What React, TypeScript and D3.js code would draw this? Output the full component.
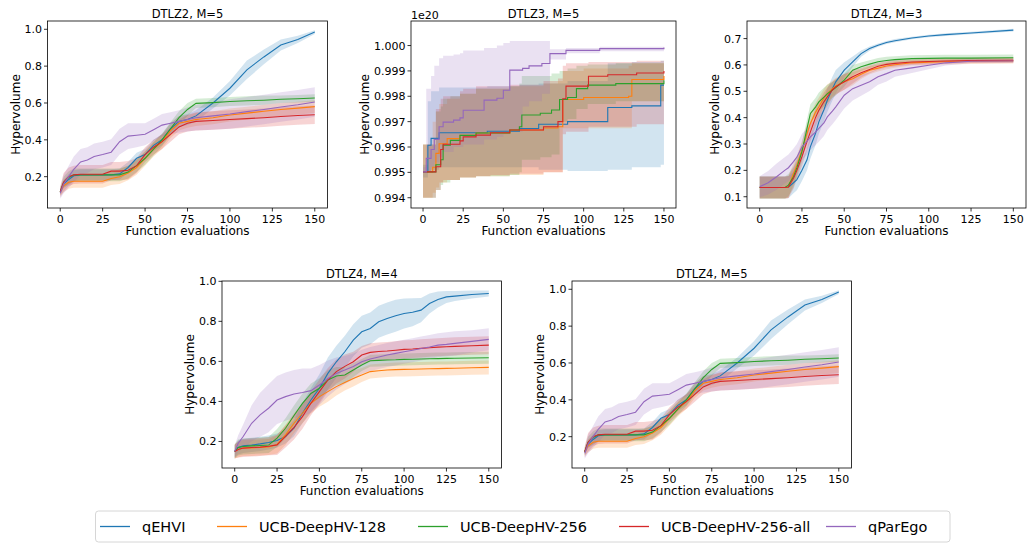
import React from 'react';
import * as d3 from 'd3';

const COLORS = ['#1f77b4', '#ff7f0e', '#2ca02c', '#d62728', '#9467bd'];
const NAMES = ['qEHVI', 'UCB-DeepHV-128', 'UCB-DeepHV-256', 'UCB-DeepHV-256-all', 'qParEgo'];
const X_TICKS = [0, 25, 50, 75, 100, 125, 150];

// DTLZ2 M=5 (same curves show up again for DTLZ4 M=5)
const evalsA = [0, 2, 5, 8, 12, 16, 20, 25, 30, 35, 40, 45, 50, 55, 60, 65, 70, 75, 80, 90, 100, 110, 120, 130, 140, 150];
const dtlz2Qehvi = [0.118, 0.16, 0.185, 0.205, 0.21, 0.21, 0.21, 0.21, 0.21, 0.215, 0.25, 0.3, 0.32, 0.37, 0.4, 0.46, 0.5, 0.51, 0.53, 0.6, 0.68, 0.78, 0.85, 0.915, 0.945, 0.985];
const dtlz2QehviSd = [0.01, 0.02, 0.03, 0.03, 0.03, 0.03, 0.03, 0.03, 0.03, 0.03, 0.03, 0.03, 0.03, 0.03, 0.03, 0.03, 0.03, 0.03, 0.03, 0.03, 0.04, 0.05, 0.04, 0.03, 0.02, 0.01];
const dtlz2Ucb128 = [0.118, 0.15, 0.17, 0.175, 0.175, 0.175, 0.175, 0.175, 0.19, 0.2, 0.22, 0.25, 0.3, 0.35, 0.39, 0.45, 0.49, 0.5, 0.51, 0.52, 0.535, 0.545, 0.555, 0.565, 0.572, 0.58];
const dtlz2Ucb128Sd = [0.02, 0.035, 0.035, 0.035, 0.035, 0.035, 0.035, 0.035, 0.035, 0.04, 0.04, 0.04, 0.04, 0.04, 0.04, 0.04, 0.04, 0.035, 0.035, 0.035, 0.035, 0.035, 0.035, 0.035, 0.035, 0.035];
const dtlz2Ucb256 = [0.118, 0.17, 0.195, 0.21, 0.21, 0.21, 0.21, 0.21, 0.21, 0.21, 0.225, 0.26, 0.3, 0.35, 0.4, 0.46, 0.52, 0.565, 0.598, 0.602, 0.608, 0.612, 0.615, 0.62, 0.623, 0.627];
const dtlz2Ucb256Sd = [0.02, 0.03, 0.035, 0.035, 0.035, 0.035, 0.035, 0.035, 0.035, 0.035, 0.035, 0.035, 0.035, 0.035, 0.035, 0.035, 0.035, 0.035, 0.025, 0.025, 0.025, 0.025, 0.025, 0.02, 0.02, 0.02];
const dtlz2Ucb256All = [0.118, 0.17, 0.2, 0.21, 0.213, 0.213, 0.213, 0.213, 0.23, 0.23, 0.235, 0.26, 0.32, 0.36, 0.39, 0.43, 0.47, 0.49, 0.5, 0.505, 0.51, 0.515, 0.52, 0.527, 0.532, 0.536];
const dtlz2Ucb256AllSd = [0.03, 0.05, 0.05, 0.05, 0.05, 0.05, 0.05, 0.05, 0.05, 0.05, 0.05, 0.04, 0.04, 0.04, 0.04, 0.04, 0.04, 0.045, 0.05, 0.05, 0.05, 0.05, 0.05, 0.05, 0.05, 0.05];
const dtlz2QParEgo = [0.11, 0.16, 0.2, 0.24, 0.28, 0.29, 0.31, 0.32, 0.333, 0.39, 0.42, 0.425, 0.43, 0.455, 0.48, 0.49, 0.5, 0.51, 0.52, 0.53, 0.54, 0.553, 0.565, 0.578, 0.59, 0.605];
const dtlz2QParEgoSd = [0.03, 0.05, 0.06, 0.07, 0.07, 0.07, 0.07, 0.07, 0.07, 0.07, 0.07, 0.065, 0.06, 0.06, 0.06, 0.06, 0.06, 0.065, 0.07, 0.075, 0.08, 0.08, 0.08, 0.08, 0.08, 0.08];

// DTLZ3 M=5, step curves, values in 1e17 (thousandths of 1e20)
const dtlz3QehviX = [0, 3, 5, 10, 40, 60, 72, 90, 115, 130, 148, 150];
const dtlz3Qehvi = [995.02, 996.07, 996.34, 996.56, 996.62, 996.73, 996.9, 997.0, 997.56, 997.62, 998.44, 998.44];
const dtlz3QehviLo = [994.8, 995.0, 995.1, 995.2, 995.2, 995.2, 995.1, 995.05, 995.1, 995.2, 995.3, 996.3];
const dtlz3QehviHi = [995.3, 997.8, 998.2, 998.35, 998.4, 998.45, 998.5, 998.6, 999.3, 999.35, 999.4, 1000.6];
const dtlz3Ucb128X = [0, 6, 8, 10, 15, 23, 33, 54, 75, 84, 87, 100, 128, 130, 150];
const dtlz3Ucb128 = [995.02, 995.2, 995.75, 996.13, 996.33, 996.46, 996.55, 996.67, 996.75, 996.8, 997.87, 997.95, 998.0, 998.66, 998.8];
const dtlz3Ucb128Lo = [994.0, 994.2, 994.4, 994.6, 994.7, 994.8, 994.85, 994.9, 995.0, 995.0, 996.74, 996.74, 996.74, 997.8, 997.9];
const dtlz3Ucb128Hi = [996.1, 997.0, 997.4, 997.7, 997.9, 998.1, 998.3, 998.4, 998.5, 998.6, 999.0, 999.1, 999.2, 999.3, 999.4];
const dtlz3Ucb256X = [0, 8, 11, 12.5, 17, 23, 33, 54, 60, 61.5, 73, 80, 85, 90, 95.5, 102.5, 120, 150];
const dtlz3Ucb256 = [995.02, 995.3, 995.5, 996.07, 996.26, 996.46, 996.55, 996.67, 996.8, 997.26, 997.33, 997.46, 997.87, 997.95, 998.3, 998.44, 998.5, 998.63];
const dtlz3Ucb256Lo = [994.0, 994.3, 994.5, 994.6, 994.7, 994.8, 994.85, 994.9, 995.0, 995.5, 995.6, 995.7, 997.0, 997.1, 997.5, 997.7, 997.8, 997.9];
const dtlz3Ucb256Hi = [996.1, 997.4, 997.6, 997.9, 998.0, 998.1, 998.3, 998.4, 998.5, 998.8, 998.8, 998.9, 999.0, 999.1, 999.2, 999.25, 999.3, 999.35];
const dtlz3Ucb256AllX = [0, 8, 11, 12.5, 23, 25, 33, 42, 54, 75, 84, 87, 89, 103, 115, 133, 150];
const dtlz3Ucb256All = [995.02, 995.22, 995.9, 996.11, 996.24, 996.4, 996.47, 996.56, 996.67, 996.8, 997.0, 997.9, 998.4, 998.79, 998.85, 998.92, 999.0];
const dtlz3Ucb256AllLo = [994.0, 994.3, 994.6, 994.7, 994.8, 994.8, 994.85, 994.9, 994.95, 995.0, 995.0, 996.5, 996.6, 996.8, 996.8, 996.9, 997.0];
const dtlz3Ucb256AllHi = [996.1, 997.5, 997.9, 998.0, 998.2, 998.3, 998.4, 998.4, 998.45, 998.6, 998.7, 999.2, 999.3, 999.35, 999.35, 999.4, 999.4];
const dtlz3QParEgoX = [0, 2, 5, 7, 10, 12.5, 19, 23, 25, 38, 46, 50, 54, 62, 66, 74, 79, 89, 110, 150];
const dtlz3QParEgo = [995.02, 995.55, 995.9, 996.3, 996.8, 996.98, 997.06, 997.15, 997.45, 997.85, 997.92, 998.24, 999.03, 999.1, 999.2, 999.29, 999.68, 999.81, 999.88, 999.92];
const dtlz3QParEgoLo = [995.0, 995.0, 995.2, 995.4, 995.6, 995.8, 996.0, 996.0, 996.1, 996.3, 996.4, 996.5, 996.6, 997.6, 997.8, 998.1, 999.45, 999.7, 999.78, 999.85];
const dtlz3QParEgoHi = [995.2, 998.3, 998.8, 999.2, 999.5, 999.6, 999.65, 999.7, 999.8, 999.9, 1000.0, 1000.1, 1000.18, 1000.18, 1000.18, 1000.18, 999.85, 999.9, 999.95, 999.98];

// DTLZ4 M=3
const evalsC = [0, 5, 10, 15, 17, 20, 22, 25, 28, 30, 33, 35, 38, 40, 43, 45, 50, 55, 60, 65, 70, 75, 80, 90, 100, 110, 125, 150];
const dtlz4m3Qehvi = [0.135, 0.135, 0.135, 0.135, 0.136, 0.153, 0.165, 0.2, 0.24, 0.29, 0.34, 0.384, 0.43, 0.466, 0.51, 0.536, 0.58, 0.612, 0.643, 0.662, 0.675, 0.685, 0.692, 0.702, 0.71, 0.715, 0.721, 0.732];
const dtlz4m3QehviSd = [0.042, 0.042, 0.042, 0.042, 0.042, 0.04, 0.04, 0.04, 0.04, 0.045, 0.045, 0.045, 0.045, 0.045, 0.045, 0.045, 0.03, 0.02, 0.012, 0.008, 0.006, 0.006, 0.006, 0.005, 0.005, 0.005, 0.005, 0.005];
const dtlz4m3Ucb128 = [0.135, 0.135, 0.135, 0.135, 0.137, 0.188, 0.22, 0.277, 0.34, 0.378, 0.42, 0.441, 0.475, 0.491, 0.51, 0.52, 0.536, 0.548, 0.565, 0.58, 0.588, 0.596, 0.601, 0.608, 0.61, 0.612, 0.614, 0.615];
const dtlz4m3Ucb128Sd = [0.042, 0.042, 0.042, 0.042, 0.042, 0.04, 0.035, 0.035, 0.035, 0.035, 0.035, 0.035, 0.035, 0.035, 0.03, 0.03, 0.03, 0.025, 0.018, 0.015, 0.013, 0.012, 0.012, 0.01, 0.01, 0.01, 0.01, 0.01];
const dtlz4m3Ucb256 = [0.135, 0.135, 0.135, 0.135, 0.144, 0.176, 0.21, 0.271, 0.359, 0.416, 0.44, 0.46, 0.478, 0.49, 0.505, 0.514, 0.542, 0.58, 0.593, 0.603, 0.612, 0.617, 0.62, 0.624, 0.625, 0.626, 0.626, 0.627];
const dtlz4m3Ucb256Sd = [0.042, 0.042, 0.042, 0.042, 0.042, 0.04, 0.035, 0.035, 0.035, 0.035, 0.035, 0.035, 0.035, 0.035, 0.03, 0.03, 0.025, 0.02, 0.016, 0.015, 0.014, 0.014, 0.013, 0.013, 0.013, 0.013, 0.013, 0.013];
const dtlz4m3Ucb256All = [0.135, 0.135, 0.135, 0.135, 0.137, 0.17, 0.2, 0.252, 0.31, 0.346, 0.4, 0.428, 0.46, 0.479, 0.505, 0.517, 0.536, 0.555, 0.57, 0.583, 0.595, 0.602, 0.606, 0.611, 0.613, 0.615, 0.617, 0.618];
const dtlz4m3Ucb256AllSd = [0.042, 0.042, 0.042, 0.042, 0.042, 0.04, 0.035, 0.035, 0.035, 0.035, 0.035, 0.035, 0.035, 0.035, 0.03, 0.03, 0.03, 0.025, 0.018, 0.015, 0.013, 0.012, 0.012, 0.01, 0.01, 0.01, 0.01, 0.01];
const dtlz4m3QParEgo = [0.138, 0.153, 0.176, 0.201, 0.21, 0.233, 0.25, 0.289, 0.31, 0.327, 0.345, 0.359, 0.38, 0.403, 0.425, 0.441, 0.485, 0.51, 0.523, 0.536, 0.555, 0.567, 0.58, 0.589, 0.599, 0.608, 0.614, 0.615];
const dtlz4m3QParEgoSd = [0.04, 0.045, 0.05, 0.05, 0.05, 0.05, 0.05, 0.05, 0.05, 0.05, 0.05, 0.05, 0.05, 0.05, 0.05, 0.05, 0.05, 0.045, 0.04, 0.035, 0.03, 0.03, 0.025, 0.02, 0.015, 0.01, 0.008, 0.008];

// DTLZ4 M=4
const evalsD = [0, 2, 5, 10, 15, 20, 25, 30, 35, 40, 45, 50, 55, 60, 65, 70, 75, 80, 85, 90, 95, 100, 105, 110, 115, 120, 125, 130, 140, 150];
const dtlz4m4Qehvi = [0.15, 0.17, 0.178, 0.182, 0.188, 0.195, 0.205, 0.225, 0.266, 0.341, 0.407, 0.466, 0.54, 0.598, 0.648, 0.706, 0.748, 0.764, 0.798, 0.814, 0.828, 0.839, 0.845, 0.856, 0.889, 0.909, 0.922, 0.926, 0.934, 0.939];
const dtlz4m4QehviSd = [0.03, 0.035, 0.035, 0.035, 0.035, 0.035, 0.035, 0.035, 0.04, 0.05, 0.06, 0.07, 0.08, 0.08, 0.08, 0.08, 0.08, 0.08, 0.08, 0.08, 0.08, 0.075, 0.07, 0.06, 0.05, 0.04, 0.03, 0.025, 0.02, 0.015];
const dtlz4m4Ucb128 = [0.15, 0.16, 0.167, 0.168, 0.17, 0.172, 0.185, 0.233, 0.291, 0.341, 0.391, 0.424, 0.449, 0.474, 0.495, 0.515, 0.532, 0.549, 0.553, 0.557, 0.559, 0.56, 0.561, 0.562, 0.563, 0.564, 0.565, 0.566, 0.568, 0.57];
const dtlz4m4Ucb128Sd = [0.035, 0.04, 0.04, 0.04, 0.04, 0.04, 0.045, 0.05, 0.05, 0.05, 0.05, 0.05, 0.05, 0.045, 0.04, 0.04, 0.035, 0.035, 0.035, 0.035, 0.035, 0.035, 0.035, 0.035, 0.035, 0.035, 0.035, 0.035, 0.035, 0.035];
const dtlz4m4Ucb256 = [0.15, 0.17, 0.175, 0.178, 0.18, 0.182, 0.217, 0.266, 0.33, 0.39, 0.44, 0.466, 0.507, 0.527, 0.532, 0.557, 0.582, 0.603, 0.605, 0.607, 0.608, 0.61, 0.611, 0.612, 0.613, 0.614, 0.615, 0.616, 0.617, 0.618];
const dtlz4m4Ucb256Sd = [0.035, 0.04, 0.04, 0.04, 0.04, 0.04, 0.045, 0.05, 0.05, 0.05, 0.05, 0.05, 0.05, 0.045, 0.04, 0.035, 0.03, 0.03, 0.03, 0.03, 0.03, 0.03, 0.03, 0.03, 0.03, 0.03, 0.03, 0.03, 0.03, 0.03];
const dtlz4m4Ucb256All = [0.15, 0.16, 0.167, 0.17, 0.172, 0.176, 0.183, 0.225, 0.27, 0.324, 0.391, 0.449, 0.507, 0.549, 0.575, 0.598, 0.632, 0.645, 0.649, 0.652, 0.656, 0.66, 0.662, 0.665, 0.668, 0.671, 0.673, 0.675, 0.678, 0.681];
const dtlz4m4Ucb256AllSd = [0.035, 0.04, 0.045, 0.045, 0.045, 0.045, 0.05, 0.055, 0.06, 0.06, 0.06, 0.06, 0.06, 0.06, 0.06, 0.05, 0.045, 0.045, 0.045, 0.045, 0.045, 0.045, 0.045, 0.045, 0.045, 0.045, 0.045, 0.045, 0.045, 0.045];
const dtlz4m4QParEgo = [0.15, 0.19, 0.225, 0.291, 0.333, 0.366, 0.407, 0.424, 0.437, 0.445, 0.454, 0.482, 0.515, 0.54, 0.557, 0.575, 0.598, 0.612, 0.622, 0.632, 0.64, 0.648, 0.656, 0.664, 0.672, 0.681, 0.685, 0.69, 0.7, 0.71];
const dtlz4m4QParEgoSd = [0.03, 0.04, 0.06, 0.09, 0.11, 0.12, 0.12, 0.12, 0.12, 0.12, 0.11, 0.1, 0.09, 0.08, 0.07, 0.065, 0.06, 0.06, 0.06, 0.06, 0.06, 0.06, 0.06, 0.06, 0.06, 0.06, 0.06, 0.06, 0.055, 0.055];

type Pt = { x: number; m: number; lo: number; hi: number };

const withSd = (xs: number[], m: number[], sd: number[]): Pt[] =>
  xs.map((x, i) => ({ x, m: m[i], lo: m[i] - sd[i], hi: m[i] + sd[i] }));
const withBand = (xs: number[], m: number[], lo: number[], hi: number[]): Pt[] =>
  xs.map((x, i) => ({ x, m: m[i], lo: lo[i], hi: hi[i] }));

const dtlz2Series = [
  withSd(evalsA, dtlz2Qehvi, dtlz2QehviSd),
  withSd(evalsA, dtlz2Ucb128, dtlz2Ucb128Sd),
  withSd(evalsA, dtlz2Ucb256, dtlz2Ucb256Sd),
  withSd(evalsA, dtlz2Ucb256All, dtlz2Ucb256AllSd),
  withSd(evalsA, dtlz2QParEgo, dtlz2QParEgoSd),
];
const dtlz3Series = [
  withBand(dtlz3QehviX, dtlz3Qehvi, dtlz3QehviLo, dtlz3QehviHi),
  withBand(dtlz3Ucb128X, dtlz3Ucb128, dtlz3Ucb128Lo, dtlz3Ucb128Hi),
  withBand(dtlz3Ucb256X, dtlz3Ucb256, dtlz3Ucb256Lo, dtlz3Ucb256Hi),
  withBand(dtlz3Ucb256AllX, dtlz3Ucb256All, dtlz3Ucb256AllLo, dtlz3Ucb256AllHi),
  withBand(dtlz3QParEgoX, dtlz3QParEgo, dtlz3QParEgoLo, dtlz3QParEgoHi),
];
const dtlz4m3Series = [
  withSd(evalsC, dtlz4m3Qehvi, dtlz4m3QehviSd),
  withSd(evalsC, dtlz4m3Ucb128, dtlz4m3Ucb128Sd),
  withSd(evalsC, dtlz4m3Ucb256, dtlz4m3Ucb256Sd),
  withSd(evalsC, dtlz4m3Ucb256All, dtlz4m3Ucb256AllSd),
  withSd(evalsC, dtlz4m3QParEgo, dtlz4m3QParEgoSd),
];
const dtlz4m4Series = [
  withSd(evalsD, dtlz4m4Qehvi, dtlz4m4QehviSd),
  withSd(evalsD, dtlz4m4Ucb128, dtlz4m4Ucb128Sd),
  withSd(evalsD, dtlz4m4Ucb256, dtlz4m4Ucb256Sd),
  withSd(evalsD, dtlz4m4Ucb256All, dtlz4m4Ucb256AllSd),
  withSd(evalsD, dtlz4m4QParEgo, dtlz4m4QParEgoSd),
];

const FONT = 'DejaVu Sans, sans-serif';

type PanelProps = {
  id: string;
  box: { l: number; r: number; t: number; b: number };
  title: string;
  yDomain: [number, number];
  yTicks: number[];
  fmt: (v: number) => string;
  series: Pt[][];
  step?: boolean;
  offsetText?: string;
  labelGap?: number;
};

function Panel({ id, box, title, yDomain, yTicks, fmt, series, step, offsetText, labelGap = 28 }: PanelProps) {
  const x = d3.scaleLinear().domain([-7.5, 157.5]).range([box.l, box.r]);
  const y = d3.scaleLinear().domain(yDomain).range([box.b, box.t]);
  const curve = step ? d3.curveStepAfter : d3.curveLinear;
  const area = d3.area<Pt>().x(d => x(d.x)).y0(d => y(d.lo)).y1(d => y(d.hi)).curve(curve);
  const line = d3.line<Pt>().x(d => x(d.x)).y(d => y(d.m)).curve(curve);
  const cx = (box.l + box.r) / 2;
  const cy = (box.t + box.b) / 2;

  return (
    <g fontFamily={FONT}>
      <defs>
        <clipPath id={id}>
          <rect x={box.l} y={box.t} width={box.r - box.l} height={box.b - box.t} />
        </clipPath>
      </defs>
      <g clipPath={`url(#${id})`}>
        {series.map((s, i) => (
          <path key={'a' + i} d={area(s) || ''} fill={COLORS[i]} fillOpacity={0.2} stroke="none" />
        ))}
        {series.map((s, i) => (
          <path key={'l' + i} d={line(s) || ''} fill="none" stroke={COLORS[i]} strokeWidth={1.1} />
        ))}
      </g>
      <rect x={box.l} y={box.t} width={box.r - box.l} height={box.b - box.t} fill="none" stroke="#000" strokeWidth={0.8} />
      {X_TICKS.map(t => (
        <g key={'x' + t}>
          <line x1={x(t)} x2={x(t)} y1={box.b} y2={box.b + 3.5} stroke="#000" strokeWidth={0.8} />
          <text x={x(t)} y={box.b + 14.5} fontSize={11} textAnchor="middle">{t}</text>
        </g>
      ))}
      {yTicks.map(t => (
        <g key={'y' + t}>
          <line x1={box.l - 3.5} x2={box.l} y1={y(t)} y2={y(t)} stroke="#000" strokeWidth={0.8} />
          <text x={box.l - 5.5} y={y(t)} dy="0.36em" fontSize={11} textAnchor="end">{fmt(t)}</text>
        </g>
      ))}
      <text x={cx} y={box.t - 2.7} fontSize={11.5} textAnchor="middle">{title}</text>
      <text x={cx} y={box.b + 27} fontSize={12} textAnchor="middle">Function evaluations</text>
      <text transform={`translate(${box.l - labelGap},${cy}) rotate(-90)`} fontSize={12} textAnchor="middle">Hypervolume</text>
      {offsetText && (
        <text x={box.l} y={box.t - 2.5} fontSize={11}>{offsetText}</text>
      )}
    </g>
  );
}

const f1 = (v: number) => v.toFixed(1);
const f3 = (v: number) => (v / 1000).toFixed(3);

const LEGEND_X = [100, 217, 418, 619, 826];

export default function App() {
  return (
    <div style={{ position: 'absolute', left: 0, top: 0 }}>
      <svg width={1029} height={546} style={{ display: 'block', background: '#fff' }}>
        <Panel id="c1" box={{ l: 47.5, r: 327.5, t: 21, b: 208 }} title="DTLZ2, M=5"
          yDomain={[0.03, 1.045]} yTicks={[0.2, 0.4, 0.6, 0.8, 1.0]} fmt={f1} series={dtlz2Series} />
        <Panel id="c2" box={{ l: 411, r: 676, t: 21, b: 208 }} title="DTLZ3, M=5"
          yDomain={[993.595, 1000.968]} yTicks={[994, 995, 996, 997, 998, 999, 1000]} fmt={f3}
          series={dtlz3Series} step offsetText="1e20" labelGap={42} />
        <Panel id="c3" box={{ l: 747, r: 1026, t: 21, b: 208 }} title="DTLZ4, M=3"
          yDomain={[0.0572, 0.7667]} yTicks={[0.1, 0.2, 0.3, 0.4, 0.5, 0.6, 0.7]} fmt={f1} series={dtlz4m3Series} />
        <Panel id="c4" box={{ l: 222, r: 501.5, t: 281, b: 468 }} title="DTLZ4, M=4"
          yDomain={[0.0675, 1.0015]} yTicks={[0.2, 0.4, 0.6, 0.8, 1.0]} fmt={f1} series={dtlz4m4Series} />
        <Panel id="c5" box={{ l: 572, r: 851.5, t: 281, b: 468 }} title="DTLZ4, M=5"
          yDomain={[0.03, 1.045]} yTicks={[0.2, 0.4, 0.6, 0.8, 1.0]} fmt={f1} series={dtlz2Series} />
        <g fontFamily={FONT}>
          <rect x={95.5} y={511} width={854.5} height={31} rx={3} fill="#fff" stroke="#cccccc" strokeWidth={0.8} />
          {NAMES.map((n, i) => (
            <g key={n}>
              <line x1={LEGEND_X[i]} x2={LEGEND_X[i] + 30} y1={526.5} y2={526.5} stroke={COLORS[i]} strokeWidth={1.3} />
              <text x={LEGEND_X[i] + 42} y={526.5} dy="0.36em" fontSize={14.5}>{n}</text>
            </g>
          ))}
        </g>
      </svg>
    </div>
  );
}
